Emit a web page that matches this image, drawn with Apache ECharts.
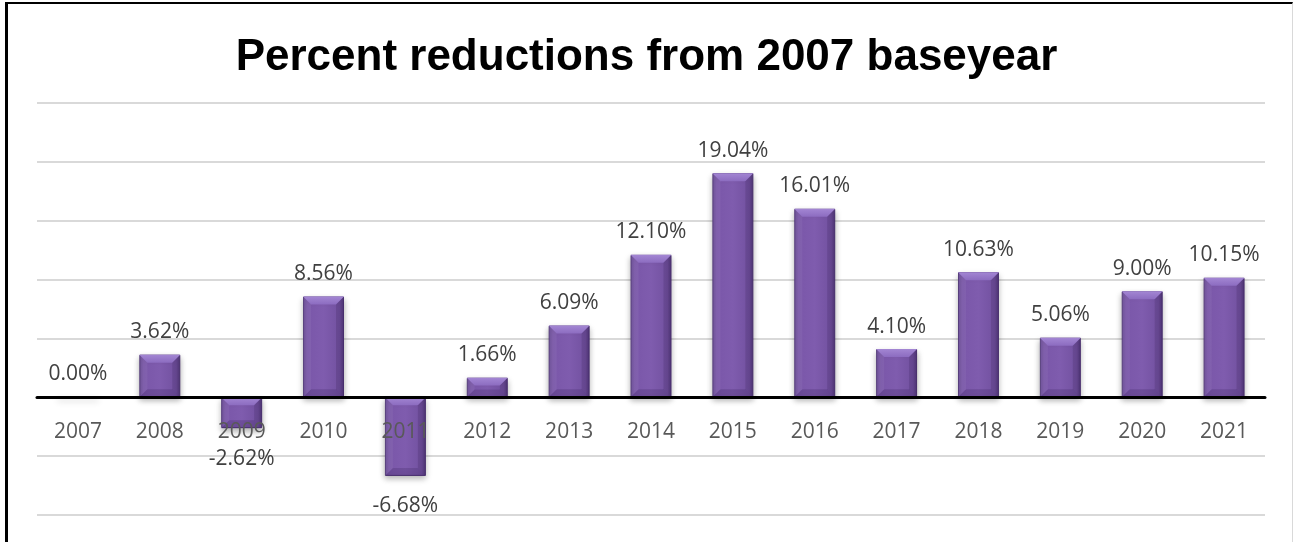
<!DOCTYPE html>
<html>
<head>
<meta charset="utf-8">
<script src="https://cdn.jsdelivr.net/npm/echarts@6/dist/echarts.min.js"></script>
<style>
	html, body { margin: 0; padding: 0; background: #fff; }
	#frame {
		position: absolute; left: 5px; top: 2px; width: 1288px; height: 540px;
		box-sizing: border-box;
		border-top: 2px solid #000;
		border-left: 3px solid #000;
		border-right: 1px solid #d9d9d9;
	}
	#main { position: absolute; left: 0; top: 0; width: 1293px; height: 542px; }
</style>
</head>
<body>
<div id="frame"></div>
<div id="main"></div>
<script>
	// years on the x axis
	var years = ['2007', '2008', '2009', '2010', '2011', '2012', '2013', '2014',
		'2015', '2016', '2017', '2018', '2019', '2020', '2021'];
	// percent reduction vs 2007
	var reductions = [0.00, 3.62, -2.62, 8.56, -6.68, 1.66, 6.09, 12.10,
		19.04, 16.01, 4.10, 10.63, 5.06, 9.00, 10.15];

	var yMin = -10, yMax = 25, yStep = 5;
	var gridTop = 103, gridBottom = 27, H = 542;

	var chart = echarts.init(document.getElementById('main'), null, { renderer: 'canvas' });

	// the category axis sits on the zero line: move it up from the bottom edge
	var plotH = H - gridTop - gridBottom;
	var zeroOffset = -plotH * (0 - yMin) / (yMax - yMin);

	var barFill = new echarts.graphic.LinearGradient(0, 0, 1, 0, [
		{ offset: 0, color: '#6a4b98' },
		{ offset: 0.1, color: '#7a57a9' },
		{ offset: 0.5, color: '#7f5cae' },
		{ offset: 0.9, color: '#7251a0' },
		{ offset: 1, color: '#563b7f' }
	]);

	// bevel drawn on top of each bar (light top edge, dark bottom edge)
	function renderBevel(params, api) {
		var i = api.value(0), v = api.value(1);
		if (v === 0) return null;
		var end = api.coord([i, v]);
		var zero = api.coord([i, 0]);
		var w = api.size([1, 0])[0] * 0.5;
		var xl = end[0] - w / 2, xr = end[0] + w / 2;
		var top = Math.min(end[1], zero[1]), bot = Math.max(end[1], zero[1]);
		var b = Math.min(8, (bot - top) / 2.5);
		return {
			type: 'group',
			children: [{
				type: 'polygon',
				shape: { points: [[xl, top], [xr, top], [xr - b, top + b], [xl + b, top + b]] },
				style: {
					fill: new echarts.graphic.LinearGradient(0, 0, 0, 1, [
						{ offset: 0, color: '#a386d3' },
						{ offset: 1, color: '#8c6cc0' }
					])
				}
			}, {
				type: 'polygon',
				shape: { points: [[xl, bot], [xr, bot], [xr - b, bot - b], [xl + b, bot - b]] },
				style: { fill: 'rgba(60,35,95,0.25)' }
			}, {
				type: 'polygon',
				shape: { points: [[xr, top], [xr, bot], [xr - b, bot - b], [xr - b, top + b]] },
				style: { fill: 'rgba(50,30,80,0.18)' }
			}, {
				type: 'polygon',
				shape: { points: [[xl, top], [xl, bot], [xl + b, bot - b], [xl + b, top + b]] },
				style: { fill: 'rgba(255,255,255,0.06)' }
			}]
		};
	}

	var option = {
		animation: false,
		title: {
			text: 'Percent reductions from 2007 baseyear',
			left: 'center',
			top: 31,
			textStyle: {
				fontFamily: 'Liberation Sans',
				fontWeight: 'bold',
				fontSize: 44,
				color: '#000'
			}
		},
		grid: {
			left: 37,
			right: 28,
			top: gridTop,
			bottom: gridBottom,
			outerBoundsMode: 'none',
			containLabel: false
		},
		xAxis: {
			type: 'category',
			data: years,
			position: 'bottom',
			offset: zeroOffset,
			axisLine: { onZero: false, lineStyle: { color: '#000', width: 3 } },
			axisTick: { show: false },
			axisLabel: {
				margin: 24,
				fontFamily: 'Open Sans',
				fontSize: 21,
				color: '#595959'
			},
			z: 10
		},
		yAxis: {
			type: 'value',
			min: yMin,
			max: yMax,
			interval: yStep,
			axisLabel: { show: false },
			axisLine: { show: false },
			axisTick: { show: false },
			splitLine: { lineStyle: { color: '#d9d9d9', width: 2 } }
		},
		series: [{
			type: 'bar',
			z: 2,
			barCategoryGap: '50%',
			data: reductions.map(function (v) {
				return {
					value: v,
					label: { position: v < 0 ? 'bottom' : 'top', distance: v < 0 ? 20 : 12 }
				};
			}),
			itemStyle: {
				color: barFill,
				borderColor: '#4d3374',
				borderWidth: 1,
				shadowColor: 'rgba(0,0,0,0.3)',
				shadowBlur: 6,
				shadowOffsetY: 3
			},
			label: {
				show: true,
				fontFamily: 'Open Sans',
				fontSize: 21,
				color: '#404040',
				formatter: function (p) { return p.value.toFixed(2) + '%'; }
			}
		}, {
			type: 'custom',
			silent: true,
			z: 3,
			renderItem: renderBevel,
			data: reductions.map(function (v, i) { return [i, v]; })
		}]
	};

	chart.setOption(option);
</script>
</body>
</html>
